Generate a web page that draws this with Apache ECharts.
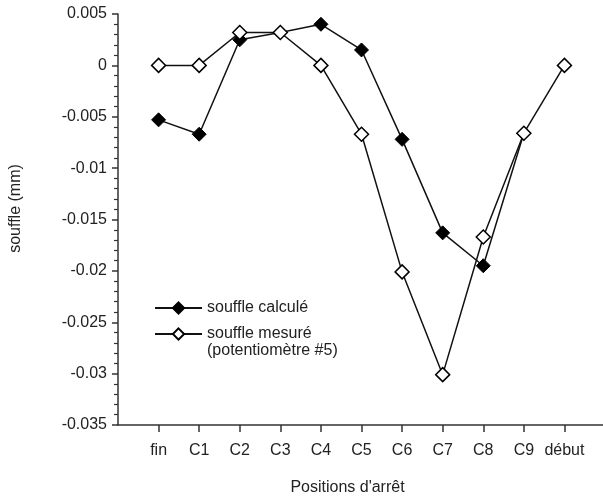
<!DOCTYPE html>
<html>
<head>
<meta charset="utf-8">
<script src="https://cdn.jsdelivr.net/npm/echarts@6/dist/echarts.min.js"></script>
<style>
html,body{margin:0;padding:0;background:#fff;}
#main{width:603px;height:501px;}
</style>
</head>
<body>
<div id="main"></div>
<script>
// positions d'arret (x axis)
var stops = ['fin', 'C1', 'C2', 'C3', 'C4', 'C5', 'C6', 'C7', 'C8', 'C9', 'début'];
// souffle calcule, stops fin..C9
var calcule = [-0.0053, -0.0067, 0.0025, 0.0032, 0.0040, 0.0015, -0.0072, -0.0163, -0.0195, -0.0066];
// souffle mesure (potentiometre #5), stops fin..debut
var mesure = [0, 0, 0.0032, 0.0032, 0, -0.0067, -0.0201, -0.0301, -0.0167, -0.0066, 0];
// y axis range and step
var yMin = -0.035, yMax = 0.005, yStep = 0.005;

var font = '"Liberation Sans", Arial, sans-serif';
var fs = 16;

function pts(arr) {
	var out = [];
	for (var i = 0; i < arr.length; i++) out.push([i + 1, arr[i]]);
	return out;
}
var stopIdx = stops.map(function (s, i) { return i + 1; });

var chart = echarts.init(document.getElementById('main'));
chart.setOption({
	animation: false,
	grid: { left: 116, right: 0, top: 14, bottom: 73 },
	legend: {
		orient: 'vertical',
		left: 154,
		top: 300,
		padding: 0,
		itemWidth: 47,
		itemHeight: 14,
		itemGap: 10,
		textStyle: { fontFamily: font, fontSize: fs, color: '#222' },
		data: ['souffle calculé', 'souffle mesuré']
	},
	xAxis: {
		type: 'value',
		min: 0,
		max: 11.95,
		name: "Positions d'arrêt",
		nameLocation: 'middle',
		nameGap: 55,
		nameTextStyle: { fontFamily: font, fontSize: fs, color: '#222', padding: [0, 26, 0, 0] },
		axisLine: { onZero: false, lineStyle: { color: '#333', width: 1.5 } },
		axisTick: { length: 7, customValues: stopIdx, lineStyle: { color: '#333', width: 1.5 } },
		axisLabel: {
			margin: 18,
			customValues: stopIdx,
			fontFamily: font, fontSize: fs, color: '#222',
			formatter: function (v) { return stops[v - 1] || ''; }
		},
		splitLine: { show: false }
	},
	yAxis: {
		type: 'value',
		min: yMin,
		max: yMax,
		interval: yStep,
		name: 'souffle (mm)',
		nameLocation: 'middle',
		nameGap: 94,
		nameTextStyle: { fontFamily: font, fontSize: fs, color: '#222', padding: [0, 0, 0, 22] },
		axisLine: { show: true, lineStyle: { color: '#333', width: 1.5 } },
		axisTick: { show: true, length: 6, lineStyle: { color: '#333', width: 1.5 } },
		minorTick: { show: true, splitNumber: 5, length: 4, lineStyle: { color: '#333', width: 1.2 } },
		axisLabel: { margin: 11, fontFamily: font, fontSize: fs, color: '#222' },
		splitLine: { show: false }
	},
	graphic: [{
		type: 'text',
		left: 207,
		top: 343,
		style: { text: '(potentiomètre #5)', font: fs + 'px ' + font, fill: '#222' }
	}],
	series: [{
		name: 'souffle calculé',
		type: 'line',
		data: pts(calcule),
		symbol: 'diamond',
		symbolSize: 14,
		lineStyle: { color: '#111', width: 1.5 },
		itemStyle: { color: '#000', borderColor: '#000', borderWidth: 1 },
		z: 2
	}, {
		name: 'souffle mesuré',
		type: 'line',
		data: pts(mesure),
		symbol: 'diamond',
		symbolSize: 14,
		lineStyle: { color: '#111', width: 1.5 },
		itemStyle: { color: '#fff', borderColor: '#000', borderWidth: 1.5 },
		z: 3
	}]
});
</script>
</body>
</html>
